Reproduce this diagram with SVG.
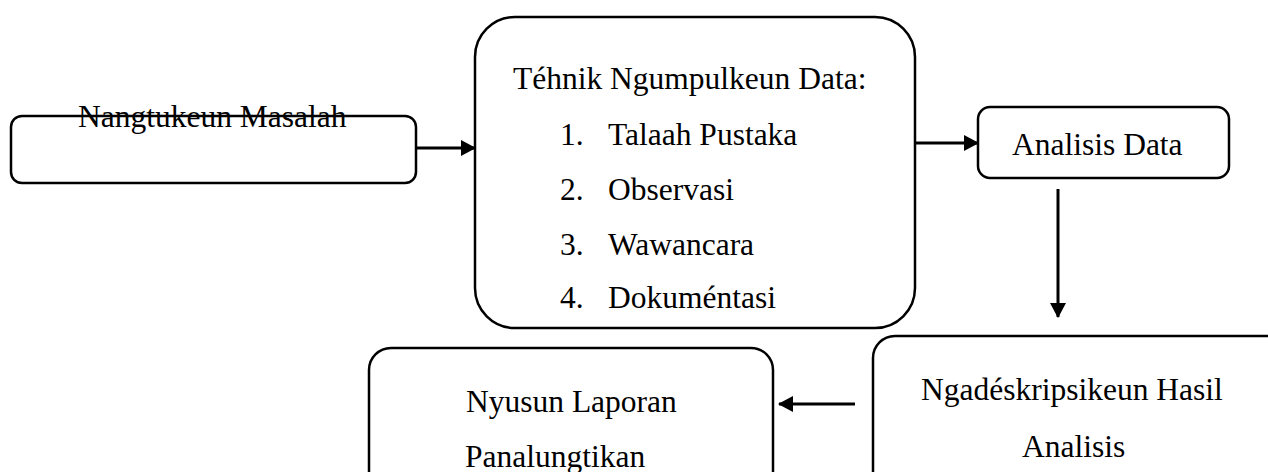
<svg xmlns="http://www.w3.org/2000/svg" width="1268" height="472" viewBox="0 0 1268 472">
<style>
.box{fill:#fff;stroke:#000;stroke-width:2.5}
.t{font-family:"Liberation Serif","Times New Roman",serif;font-size:31.5px;fill:#000}
.c{stroke:#000;stroke-width:3;fill:none}
</style>
<defs>
<marker id="ah" markerUnits="userSpaceOnUse" markerWidth="15" markerHeight="16" refX="14" refY="8" orient="auto">
<path d="M0,0 L15,8 L0,16 Z" fill="#000"/>
</marker>
</defs>
<rect width="1268" height="472" fill="#fff"/>
<g id="n1">
<rect class="box" x="11" y="116" width="405" height="67" rx="11"/>
<text class="t" x="78" y="127">Nangtukeun Masalah</text>
</g>
<g id="n2">
<rect class="box" x="475" y="17" width="440" height="311" rx="40"/>
<text class="t" x="513" y="89">Téhnik Ngumpulkeun Data:</text>
<text class="t" x="560" y="145">1.</text><text class="t" x="608" y="145">Talaah Pustaka</text>
<text class="t" x="560" y="200">2.</text><text class="t" x="608" y="200">Observasi</text>
<text class="t" x="560" y="255">3.</text><text class="t" x="608" y="255">Wawancara</text>
<text class="t" x="560" y="308">4.</text><text class="t" x="608" y="308">Dokuméntasi</text>
</g>
<g id="n3">
<rect class="box" x="978" y="107" width="251" height="71" rx="12"/>
<text class="t" x="1012" y="155">Analisis Data</text>
</g>
<g id="n4">
<rect class="box" x="873" y="336" width="420" height="160" rx="22"/>
<text class="t" x="921" y="400">Ngadéskripsikeun Hasil</text>
<text class="t" x="1022" y="457">Analisis</text>
</g>
<g id="n5">
<rect class="box" x="369" y="348" width="404" height="150" rx="22"/>
<text class="t" x="466" y="412">Nyusun Laporan</text>
<text class="t" x="465" y="467">Panalungtikan</text>
</g>
<g id="connectors">
<line class="c" x1="416" y1="148" x2="475" y2="148" marker-end="url(#ah)"/>
<line class="c" x1="915" y1="143" x2="978" y2="143" marker-end="url(#ah)"/>
<line class="c" x1="1058" y1="189" x2="1058" y2="317" marker-end="url(#ah)"/>
<line class="c" x1="855" y1="404" x2="779" y2="404" marker-end="url(#ah)"/>
</g>
</svg>
